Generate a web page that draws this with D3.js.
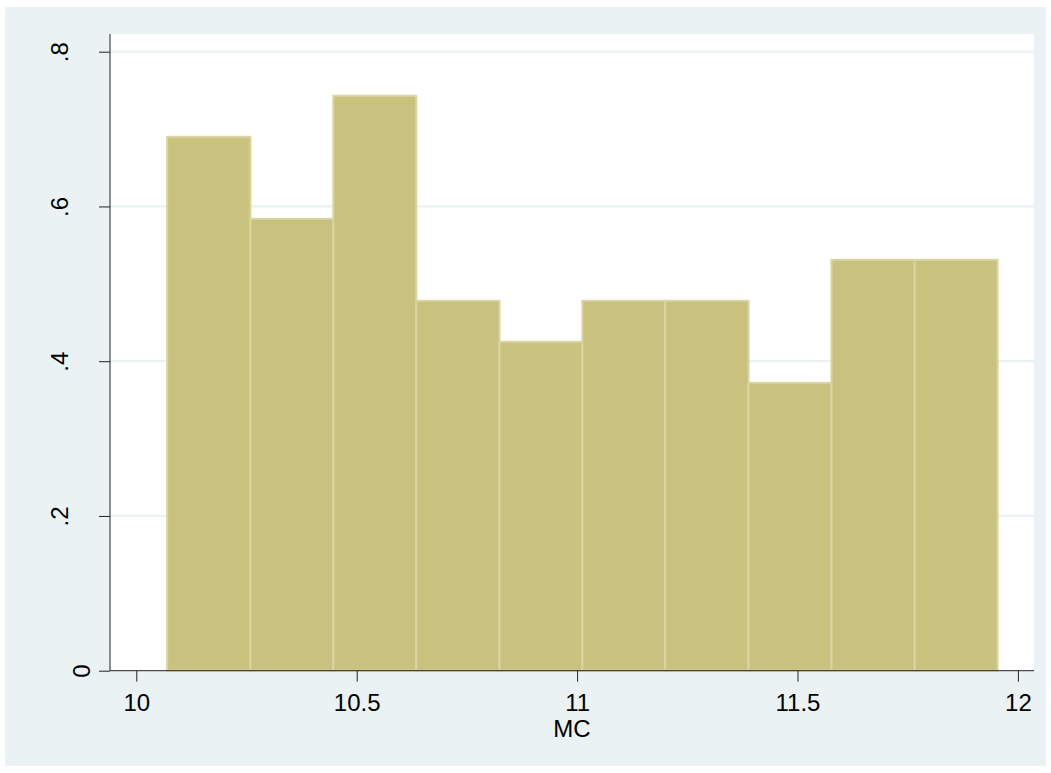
<!DOCTYPE html>
<html>
<head>
<meta charset="utf-8">
<script src="https://cdn.jsdelivr.net/npm/d3@7"></script>
<style>
  html, body { margin: 0; padding: 0; background: #fff; }
  svg { display: block; font-family: "Liberation Sans", Arial, sans-serif; }
</style>
</head>
<body>
<script>
// data: histogram of MC (density), 10 bins
var binEdges = [10.070, 10.259, 10.447, 10.635, 10.824, 11.012, 11.200, 11.389, 11.577, 11.766, 11.954];
var densities = [0.690, 0.584, 0.743, 0.478, 0.425, 0.478, 0.478, 0.372, 0.531, 0.531];
var xTicks = [10, 10.5, 11, 11.5, 12];
var xTickLabels = ['10', '10.5', '11', '11.5', '12'];
var yTicks = [0, 0.2, 0.4, 0.6, 0.8];
var yTickLabels = ['0', '.2', '.4', '.6', '.8'];
var xTitle = 'MC';
//end data

var width = 1051, height = 773;
var plot = { left: 110, right: 1034, top: 34, bottom: 670.7 };

var svg = d3.select('body').append('svg')
    .attr('width', width)
    .attr('height', height);

// graph region
svg.append('rect')
    .attr('x', 5).attr('y', 7)
    .attr('width', width - 10).attr('height', height - 14)
    .attr('fill', '#eaf2f3');

// plot region
svg.append('rect')
    .attr('x', plot.left).attr('y', plot.top)
    .attr('width', plot.right - plot.left).attr('height', plot.bottom - plot.top)
    .attr('fill', '#fff');

var x = d3.scaleLinear().domain([10, 12]).range([136.3, 1017.9]);
var y = d3.scaleLinear().domain([0, 0.8]).range([plot.bottom, 51.7]);

// gridlines
svg.append('g').selectAll('line')
    .data(yTicks.filter(function (d) { return d > 0; }))
    .enter().append('line')
    .attr('x1', plot.left).attr('x2', plot.right)
    .attr('y1', function (d) { return y(d); })
    .attr('y2', function (d) { return y(d); })
    .attr('stroke', '#eaf2f3')
    .attr('stroke-width', 2.2);

// bars
var bins = densities.map(function (d, i) {
    return { x0: binEdges[i], x1: binEdges[i + 1], density: d };
});
svg.append('g').selectAll('rect')
    .data(bins)
    .enter().append('rect')
    .attr('x', function (d) { return x(d.x0); })
    .attr('y', function (d) { return y(d.density); })
    .attr('width', function (d) { return x(d.x1) - x(d.x0); })
    .attr('height', function (d) { return y(0) - y(d.density); })
    .attr('fill', '#c9c27f')
    .attr('stroke', '#d9d4a1')
    .attr('stroke-width', 2);

// y axis
var yAxis = d3.axisLeft(y)
    .tickValues(yTicks)
    .tickSize(11)
    .tickFormat(function (d, i) { return yTickLabels[i]; });
var gy = svg.append('g')
    .attr('transform', 'translate(' + plot.left + ',0)')
    .call(yAxis);
gy.select('.domain')
    .attr('d', 'M0,' + plot.top + 'V' + plot.bottom)
    .attr('stroke', '#222');
gy.selectAll('.tick line').attr('stroke', '#222');
gy.selectAll('.tick text')
    .attr('x', null).attr('dy', null)
    .attr('font-size', 24)
    .attr('fill', '#000')
    .attr('text-anchor', 'middle')
    .attr('transform', function (d) {
        var bx = d === 0 ? -20 : -42;
        return 'translate(' + bx + ',0) rotate(-90)';
    });

// x axis
var xAxis = d3.axisBottom(x)
    .tickValues(xTicks)
    .tickSize(11)
    .tickFormat(function (d, i) { return xTickLabels[i]; });
var gx = svg.append('g')
    .attr('transform', 'translate(0,' + plot.bottom + ')')
    .call(xAxis);
gx.select('.domain')
    .attr('d', 'M' + plot.left + ',0H' + plot.right)
    .attr('stroke', '#222');
gx.selectAll('.tick line').attr('stroke', '#222');
gx.selectAll('.tick text')
    .attr('y', 40.5).attr('dy', null)
    .attr('font-size', 24)
    .attr('fill', '#000');

// x title
svg.append('text')
    .attr('x', (plot.left + plot.right) / 2)
    .attr('y', 737)
    .attr('text-anchor', 'middle')
    .attr('font-size', 24)
    .attr('fill', '#000')
    .text(xTitle);
</script>
</body>
</html>
